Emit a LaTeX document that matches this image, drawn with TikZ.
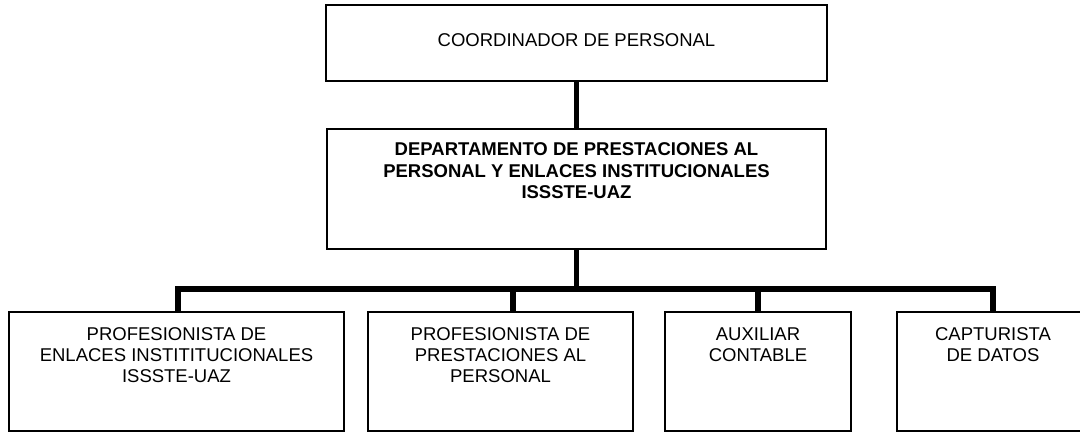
\documentclass[tikz,border=0pt]{standalone}
\usepackage{fontspec}
\setmainfont{Liberation Sans}
\begin{document}
\begin{tikzpicture}[x=1pt,y=-1pt,
  box/.style={draw=black, line width=1.5pt, rectangle, inner sep=0pt},
  conn/.style={line width=5.5pt, draw=black, line join=miter},
  txt/.style={font=\fontsize{18.5}{21.3}\selectfont, align=center, inner sep=0pt, anchor=north},
  btxt/.style={txt, font=\fontsize{18.5}{21.3}\selectfont\bfseries}]
\useasboundingbox (0,0) rectangle (1080,432);
\begin{scope}
\clip (0,0) rectangle (1080,432);
% boxes
\node[box, minimum width=501pt, minimum height=76pt] (coord) at (576.5,43) {};
\node[box, minimum width=499pt, minimum height=120pt] (dept) at (576.5,189) {};
\node[box, minimum width=335pt, minimum height=119pt] (b1) at (176.5,371.5) {};
\node[box, minimum width=265pt, minimum height=119pt] (b2) at (500.5,371.5) {};
\node[box, minimum width=186pt, minimum height=119pt] (b3) at (758,371.5) {};
\node[box, minimum width=192pt, minimum height=119pt] (b4) at (993,371.5) {};
% texts
\node[txt, anchor=center, yshift=3pt] (t0) at (coord.center) {COORDINADOR DE PERSONAL};
\node[btxt] (t1) at ([yshift=-14.5pt]dept.north) {DEPARTAMENTO DE PRESTACIONES AL\\PERSONAL Y ENLACES INSTITUCIONALES\\ISSSTE-UAZ};
\node[txt] (t2) at ([yshift=-16pt]b1.north) {PROFESIONISTA DE\\ENLACES INSTITITUCIONALES\\ISSSTE-UAZ};
\node[txt] (t3) at ([yshift=-16pt]b2.north) {PROFESIONISTA DE\\PRESTACIONES AL\\PERSONAL};
\node[txt] (t4) at ([yshift=-16pt]b3.north) {AUXILIAR\\CONTABLE};
\node[txt] (t5) at ([yshift=-16pt]b4.north) {CAPTURISTA\\DE DATOS};
% connectors
\coordinate (j1) at (178,289);
\coordinate (j2) at (513,289);
\coordinate (j3) at (758,289);
\coordinate (j4) at (993,289);
\draw[conn] (coord.south) -- (dept.north);
\draw[conn] (dept.south) -- (dept.south |- j1);
\draw[conn] (j1 |- b1.north) -- (j1) -- (j4) -- (j4 |- b4.north);
\draw[conn] (j2) -- (j2 |- b2.north);
\draw[conn] (j3) -- (j3 |- b3.north);
\end{scope}
\end{tikzpicture}
\end{document}
